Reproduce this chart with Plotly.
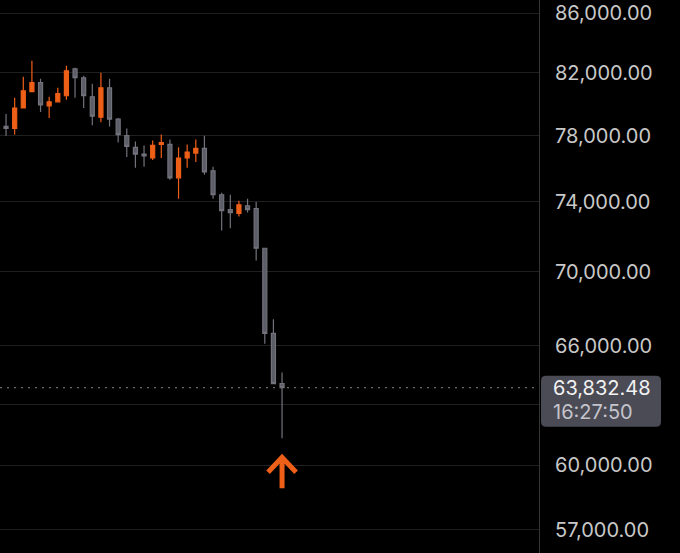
import math
import plotly.graph_objects as go

# daily candles, oldest first
opens = [78320, 78580, 78450, 79740, 80780, 81360, 79870, 80130, 80520, 82270,
         81680, 80450, 79160, 81030, 79030, 78000, 77280, 76870, 76630, 77460,
         77460, 75430, 76630, 76930, 77220, 75850, 74420, 73540, 73320, 73770,
         73600, 71320, 66650, 64040]
highs = [78840, 79360, 80390, 81740, 82800, 81610, 80450, 81030, 82470, 82330,
         81810, 81290, 82000, 81610, 79100, 78450, 77640, 77400, 77700, 78070,
         77760, 77280, 77460, 77760, 78000, 76090, 74540, 74420, 74060, 74180,
         74000, 71320, 67400, 64600]
lows = [78130, 78000, 78070, 79700, 80740, 79490, 79100, 80100, 80260, 80390,
        79740, 78650, 78840, 78580, 77580, 76690, 76030, 76090, 76510, 76630,
        75310, 74180, 76030, 76390, 75610, 74180, 72340, 72460, 73140, 73370,
        70630, 66100, 64000, 61310]
closes = [78650, 78450, 79740, 80840, 81360, 79940, 80130, 80650, 82130, 81680,
          80520, 79230, 81030, 79030, 78070, 77340, 76870, 76750, 77400, 77580,
          75430, 76630, 76990, 77220, 75790, 74420, 73490, 73370, 73830, 73540,
          71320, 66650, 64040, 63832.48]
idx = list(range(len(closes)))

tick_vals = [57000, 60000, 63000, 66000, 70000, 74000, 78000, 82000, 86000]
# the 63,000 label sits under the price tag, so it is left blank
tick_text = ["" if v == 63000 else f"{v:,.2f}" for v in tick_vals]

last_price = closes[-1]
countdown = "16:27:50"
arrow_price = 60390

ORANGE = "#EE5F17"
GREY_FILL = "#5d5d67"
GREY_LINE = "#72727c"

fig = go.Figure(go.Candlestick(
    x=idx, open=opens, high=highs, low=lows, close=closes,
    increasing=dict(fillcolor=ORANGE, line=dict(color=ORANGE, width=1.2)),
    decreasing=dict(fillcolor=GREY_FILL, line=dict(color=GREY_LINE, width=1.2)),
    hoverinfo="skip",
))

# current price dotted line
fig.add_shape(type="line", xref="paper", yref="y", x0=0, x1=1,
              y0=last_price, y1=last_price,
              line=dict(color="#6a6a6a", width=1.3, dash="2px,5px"))

# price tag box (rounded) on the axis
fig.add_shape(type="path", xref="paper", yref="y",
              xsizemode="pixel", ysizemode="pixel",
              xanchor=1, yanchor=last_price,
              path="M7,12 L117,12 Q122,12 122,7 L122,-34 Q122,-39 117,-39 "
                   "L7,-39 Q2,-39 2,-34 L2,7 Q2,12 7,12 Z",
              fillcolor="#4b4b55", line=dict(width=0), layer="above")

fig.add_annotation(xref="paper", yref="y", x=1, y=math.log10(last_price),
                   xanchor="left", yanchor="middle", xshift=12, yshift=0,
                   text=f"{last_price:,.2f}", showarrow=False,
                   font=dict(family="Inter", size=20, color="#f2f2f2"))
fig.add_annotation(xref="paper", yref="y", x=1, y=math.log10(last_price),
                   xanchor="left", yanchor="middle", xshift=12, yshift=-24,
                   text=countdown, showarrow=False,
                   font=dict(family="Inter", size=20, color="#c4c4cc"))

# orange up arrow under the last candle
fig.add_shape(type="path", xref="x", yref="y",
              xsizemode="pixel", ysizemode="pixel",
              xanchor=idx[-1], yanchor=arrow_price,
              path="M-14,-15 L0,0 L14,-15 M0,0 L0,-31",
              line=dict(color=ORANGE, width=5))

y_top = 86894
y_bot = 55963

fig.update_layout(
    width=680, height=553,
    margin=dict(l=0, r=141, t=0, b=0),
    paper_bgcolor="#000000", plot_bgcolor="#000000",
    showlegend=False, boxgap=0.33,
    font=dict(family="Inter", color="#c8c8c8"),
    xaxis=dict(range=[0.30, 62.79], visible=False, showgrid=False,
               rangeslider=dict(visible=False), fixedrange=True),
    yaxis=dict(type="log", side="right",
               range=[math.log10(y_bot), math.log10(y_top)],
               tickmode="array", tickvals=tick_vals, ticktext=tick_text,
               tickfont=dict(family="Inter", size=20, color="#c8c8c8"),
               ticklabelstandoff=11,
               showgrid=True, gridcolor="#1f1f1f", gridwidth=1,
               showline=True, linecolor="#353535", linewidth=1,
               zeroline=False, fixedrange=True),
)

fig.write_html("out.html", config={"displayModeBar": False},
               post_script="document.body.style.margin='0';")
